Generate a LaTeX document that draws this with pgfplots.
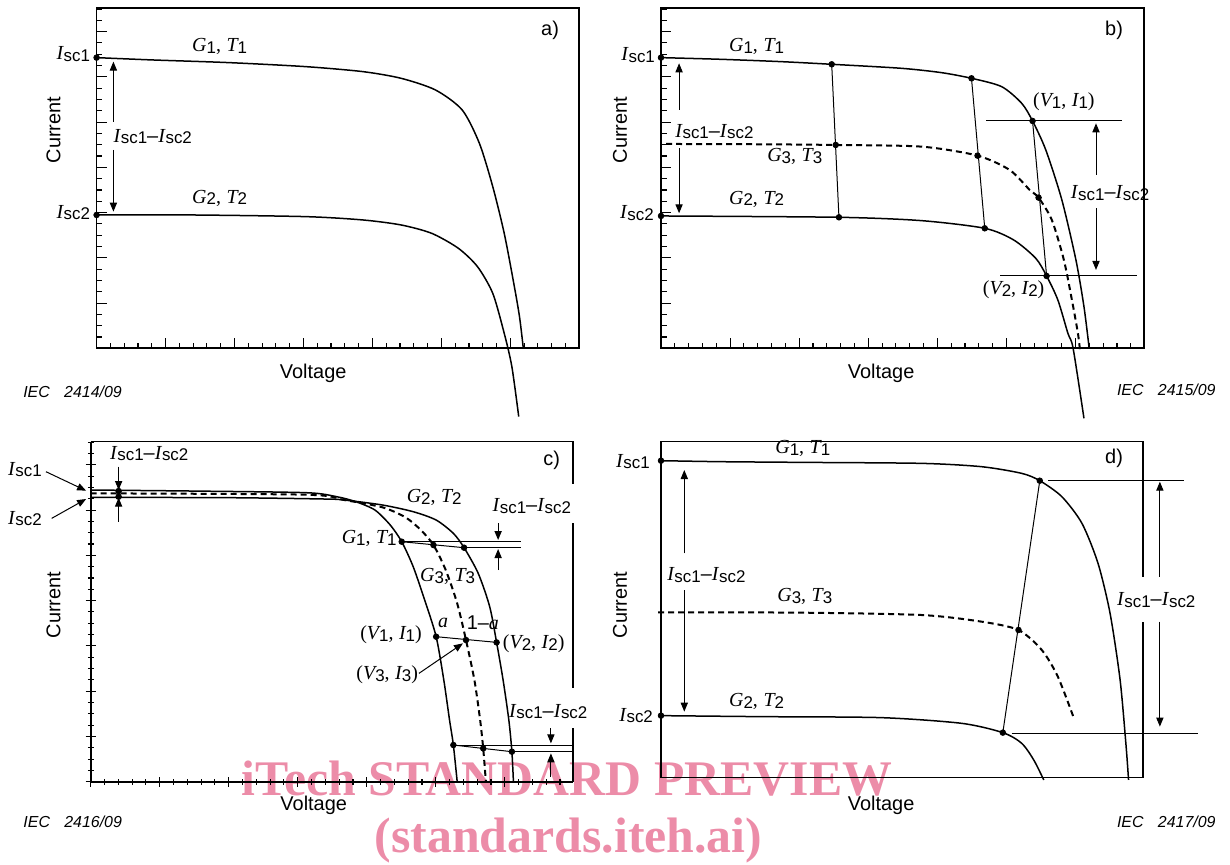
\documentclass[border=0pt]{standalone}
\usepackage{pgfplots}
\pgfplotsset{compat=1.18}
\usepackage{fontspec}
\setmainfont{Liberation Sans}
\newfontfamily\tnr{Liberation Serif}
\usetikzlibrary{arrows.meta}
\definecolor{wm}{RGB}{236,140,168}
\newcommand\vi[1]{{\tnr\itshape #1}}
\newcommand\sub[1]{\raisebox{-0.8bp}{\fontsize{8.5}{8.5}\selectfont #1}}
\newcommand\Isc[1]{\vi{I}\kern0.3bp\sub{sc#1}}
\newcommand\Idiff{\Isc{1}\textendash\Isc{2}}
\newcommand\GT[1]{\vi{G}\sub{#1}{\tnr,} \vi{T}\sub{#1}}
\newcommand\VI[1]{{\tnr(}\vi{V}\sub{#1}{\tnr,} \vi{I}\sub{#1}{\tnr)}}
\newcommand\IEC[1]{{\fontsize{8}{9}\selectfont\itshape IEC\hspace{0.9em}#1}}
\pgfplotsset{
  panel/.style={scale only axis, clip=false, anchor=south west,
    xticklabels={}, yticklabels={}, tick align=inside, tick pos=left,
    major tick length=5bp, minor tick length=2.8bp,
    every tick/.style={black, line width=0.55bp},
    axis line style={black, line width=0.8bp}},
  crv/.style={black, line width=0.75bp, mark=none, smooth, tension=0.45},
  dsh/.style={black, line width=1bp, mark=none, smooth, tension=0.45, dash pattern=on 3bp off 2bp},
  thn/.style={black, line width=0.5bp, mark=none},
  brd/.style={black, line width=0.8bp, mark=none},
  arr/.style={black, line width=0.5bp, mark=none, -{Triangle[length=4.5bp,width=3.6bp]}},
  dots/.style={only marks, mark=*, mark size=1.4bp, black},
}
\begin{document}
\begin{tikzpicture}[every node/.style={font=\fontsize{10}{12}\selectfont, inner sep=0pt}]
\useasboundingbox (0,0) rectangle (615bp,432.5bp);
% watermark
\node[anchor=base, text=wm, font=\fontsize{25}{25}\selectfont\tnr\bfseries] at (283.5bp,35bp) {iTech STANDARD PREVIEW};
\node[anchor=base, text=wm, font=\fontsize{25}{25}\selectfont\tnr\bfseries] at (284.25bp,6.5bp) {(standards.iteh.ai)};

% ---------------- panel a
\begin{axis}[panel, at={(48.3bp,258.35bp)}, width=241.05bp, height=170bp,
  xmin=253, xmax=1515, ymin=-1045, ymax=-25,
  xtick={253,433.5,...,1520}, minor x tick num=4,
  ytick={-1045,-909.29,...,50}, minor y tick num=3]
\addplot[crv] coordinates {(253,-173) (400,-180) (600,-188) (800,-200) (950,-215) (1050,-235) (1140,-270) (1210,-330) (1255,-430) (1290,-560) (1320,-700) (1345,-850) (1360,-950) (1370,-1045)};
\addplot[crv] coordinates {(253,-645) (500,-645) (800,-650) (950,-660) (1050,-675) (1130,-700) (1200,-745) (1250,-800) (1290,-880) (1320,-1000) (1340,-1100) (1358,-1250)};
\addplot[dots] coordinates {(253,-173) (253,-645)};
\addplot[arr] coordinates {(297,-365) (297,-185)};
\addplot[arr] coordinates {(297,-450) (297,-635)};
\node at (axis cs:192,-163) {\Isc{1}};
\node at (axis cs:192,-638) {\Isc{2}};
\node at (axis cs:575,-140) {\GT{1}};
\node at (axis cs:575,-595) {\GT{2}};
\node at (axis cs:400,-410) {\Idiff};
\node at (axis cs:1440,-90) {a)};
\node[rotate=90] at (axis cs:140,-390) {Current};
\node at (axis cs:820,-1120) {Voltage};
\node at (axis cs:190,-1175) {\IEC{2414/09}};
\end{axis}

% ---------------- panel b
\begin{axis}[panel, at={(330.5bp,258.35bp)}, width=241.6bp, height=170bp,
  xmin=152, xmax=1355, ymin=-1045, ymax=-25,
  xtick={152,324,...,1360}, minor x tick num=4,
  ytick={-1045,-909.29,...,50}, minor y tick num=3]
\addplot[crv] coordinates {(152,-173) (300,-178) (450,-185) (577,-193) (750,-205) (850,-218) (925,-235) (1000,-260) (1050,-310) (1077,-363) (1110,-450) (1150,-600) (1185,-780) (1205,-920) (1218,-1045)};
\addplot[dsh] coordinates {(165,-432) (400,-433) (587,-435) (800,-440) (940,-467) (1020,-510) (1070,-570) (1092,-593) (1125,-660) (1155,-780) (1175,-900) (1190,-1000) (1195,-1050)};
\addplot[crv] coordinates {(152,-648) (595,-652) (800,-662) (958,-685) (1030,-720) (1085,-775) (1112,-828) (1140,-900) (1165,-1000) (1178,-1045) (1205,-1255)};
\addplot[thn] coordinates {(577,-193) (595,-652)};
\addplot[thn] coordinates {(925,-235) (958,-685)};
\addplot[thn] coordinates {(1077,-363) (1112,-828)};
\addplot[thn] coordinates {(962,-363) (1300,-363)};
\addplot[thn] coordinates {(997,-828) (1337,-828)};
\addplot[dots] coordinates {(152,-173) (577,-193) (925,-235) (1077,-363) (587,-435) (940,-467) (1092,-593) (152,-648) (595,-652) (958,-685) (1112,-828)};
\addplot[arr] coordinates {(197,-330) (197,-190)};
\addplot[arr] coordinates {(197,-445) (197,-640)};
\addplot[arr] coordinates {(1235,-525) (1235,-370)};
\addplot[arr] coordinates {(1235,-625) (1235,-810)};
\node at (axis cs:95,-165) {\Isc{1}};
\node at (axis cs:92,-640) {\Isc{2}};
\node at (axis cs:390,-140) {\GT{1}};
\node at (axis cs:485,-470) {\GT{3}};
\node at (axis cs:390,-598) {\GT{2}};
\node at (axis cs:285,-395) {\Idiff};
\node at (axis cs:1270,-580) {\Idiff};
\node at (axis cs:1155,-305) {\VI{1}};
\node at (axis cs:1030,-870) {\VI{2}};
\node at (axis cs:1280,-90) {b)};
\node[rotate=90] at (axis cs:50,-390) {Current};
\node at (axis cs:700,-1120) {Voltage};
\node at (axis cs:1410,-1170) {\IEC{2415/09}};
\end{axis}

% ---------------- panel c
\begin{axis}[panel, at={(45.35bp,41.65bp)}, width=241.2bp, height=170bp,
  xmin=237, xmax=1498, ymin=-1055, ymax=-35,
  axis lines=left, axis line style={-, black, line width=0.8bp},
  xtick={237,417.4,...,1500}, minor x tick num=4,
  ytick={-1055,-919.2,...,50}, minor y tick num=3]
\addplot[brd] coordinates {(237,-35) (1498,-35) (1498,-163)};
\addplot[brd] coordinates {(1498,-280) (1498,-775)};
\addplot[brd] coordinates {(1498,-895) (1498,-1055)};
\addplot[crv] coordinates {(237,-180) (500,-183) (800,-188) (880,-200) (930,-215) (980,-240) (1020,-285) (1050,-335) (1080,-410) (1110,-510) (1140,-620) (1160,-750) (1175,-870) (1185,-945) (1195,-1055)};
\addplot[crv] coordinates {(237,-202) (600,-203) (850,-207) (900,-210) (1000,-225) (1080,-245) (1140,-270) (1185,-310) (1213,-353) (1250,-430) (1280,-530) (1298,-637) (1315,-750) (1330,-870) (1338,-965) (1342,-1055)};
\addplot[dsh] coordinates {(237,-190) (800,-194) (900,-210) (1000,-232) (1060,-262) (1100,-300) (1133,-345) (1165,-420) (1195,-520) (1218,-630) (1240,-750) (1255,-870) (1263,-955) (1270,-1055)};
\addplot[thn] coordinates {(1050,-335) (1213,-353)};
\addplot[thn] coordinates {(1050,-335) (1363,-335)};
\addplot[thn] coordinates {(1213,-353) (1363,-353)};
\addplot[thn] coordinates {(1140,-620) (1298,-637)};
\addplot[thn] coordinates {(1185,-945) (1338,-965)};
\addplot[thn] coordinates {(1185,-945) (1498,-945)};
\addplot[thn] coordinates {(1338,-965) (1498,-965)};
\addplot[dots] coordinates {(1050,-335) (1133,-345) (1213,-353) (1140,-620) (1218,-630) (1298,-637) (1185,-945) (1263,-955) (1338,-965) (310,-183) (310,-200)};
\addplot[arr] coordinates {(310,-110) (310,-180)};
\addplot[arr] coordinates {(310,-275) (310,-203)};
\addplot[arr] coordinates {(120,-125) (225,-182)};
\addplot[arr] coordinates {(135,-265) (225,-207)};
\addplot[arr] coordinates {(1302,-280) (1302,-330)};
\addplot[arr] coordinates {(1302,-420) (1302,-357)};
\addplot[arr] coordinates {(1440,-895) (1440,-940)};
\addplot[arr] coordinates {(1440,-1040) (1440,-970)};
\addplot[arr] coordinates {(1095,-730) (1210,-640)};
\node at (axis cs:390,-70) {\Idiff};
\node at (axis cs:65,-118) {\Isc{1}};
\node at (axis cs:65,-265) {\Isc{2}};
\node at (axis cs:1135,-202) {\GT{2}};
\node at (axis cs:965,-325) {\GT{1}};
\node at (axis cs:1170,-440) {\GT{3}};
\node at (axis cs:1158,-578) {\vi{a}};
\node at (axis cs:1262,-578) {1\textendash\vi{a}};
\node at (axis cs:1022,-615) {\VI{1}};
\node at (axis cs:1395,-642) {\VI{2}};
\node at (axis cs:1012,-735) {\VI{3}};
\node at (axis cs:1390,-228) {\Idiff};
\node at (axis cs:1433,-845) {\Idiff};
\node at (axis cs:1442,-90) {c)};
\node[rotate=90] at (axis cs:140,-525) {Current};
\node at (axis cs:820,-1125) {Voltage};
\node at (axis cs:190,-1175) {\IEC{2416/09}};
\end{axis}

% ---------------- panel d
\begin{axis}[panel, at={(330.5bp,43.85bp)}, width=241bp, height=167.8bp,
  xmin=152, xmax=1352, ymin=-1042, ymax=-35, hide axis]
\addplot[brd, line width=0.6bp] coordinates {(1352,-440) (1352,-35) (152,-35) (152,-1042) (1352,-1042) (1352,-575)};
\addplot[crv] coordinates {(152,-92) (300,-95) (500,-97) (800,-100) (950,-110) (1050,-130) (1095,-152) (1150,-200) (1200,-280) (1240,-400) (1270,-550) (1295,-750) (1310,-950) (1316,-1050)};
\addplot[dsh] coordinates {(145,-547) (500,-548) (800,-555) (950,-575) (1042,-600) (1100,-660) (1140,-740) (1180,-865)};
\addplot[crv] coordinates {(152,-857) (400,-860) (700,-863) (900,-880) (1003,-908) (1050,-940) (1080,-990) (1105,-1050)};
\addplot[thn] coordinates {(1095,-152) (1003,-908)};
\addplot[thn] coordinates {(1115,-152) (1455,-152)};
\addplot[thn] coordinates {(1025,-910) (1490,-910)};
\addplot[dots] coordinates {(152,-92) (1095,-152) (1042,-600) (152,-857) (1003,-908)};
\addplot[arr] coordinates {(210,-370) (210,-120)};
\addplot[arr] coordinates {(210,-480) (210,-845)};
\addplot[arr] coordinates {(1394,-440) (1394,-155)};
\addplot[arr] coordinates {(1394,-575) (1394,-890)};
\node at (axis cs:82,-95) {\Isc{1}};
\node at (axis cs:90,-857) {\Isc{2}};
\node at (axis cs:505,-55) {\GT{1}};
\node at (axis cs:510,-500) {\GT{3}};
\node at (axis cs:390,-815) {\GT{2}};
\node at (axis cs:265,-435) {\Idiff};
\node at (axis cs:1385,-510) {\Idiff};
\node at (axis cs:1280,-85) {d)};
\node[rotate=90] at (axis cs:50,-525) {Current};
\node at (axis cs:700,-1125) {Voltage};
\node at (axis cs:1410,-1175) {\IEC{2417/09}};
\end{axis}
\end{tikzpicture}
\end{document}
